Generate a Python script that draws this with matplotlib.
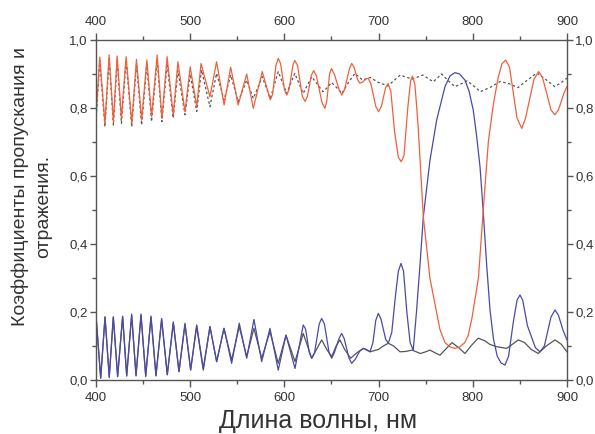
import matplotlib
matplotlib.use("Agg")
import matplotlib.pyplot as plt
from matplotlib.ticker import MultipleLocator, FuncFormatter

plt.rcParams['font.family'] = ['Liberation Sans', 'DejaVu Sans']

# transmission, first structure (red)
wl_t1 = [400, 404, 409.5, 414, 418.5, 422.5, 427, 432, 438, 443,
         448.5, 454, 459, 465, 470, 475.5, 482, 487, 494.5, 500,
         507, 511.5, 521, 528, 536, 543, 551, 560, 567, 576.5,
         585, 587.5, 591, 593.5, 596, 600, 602.5, 605, 609, 611,
         614, 619, 622, 624.5, 628.5, 631, 634, 640, 643, 645,
         648, 650, 653, 658, 661, 664, 669, 671.5, 674, 677.5,
         680, 683, 686.5, 689, 692, 697, 700, 703, 707.5, 710,
         713, 717, 721, 724, 727, 731, 734, 736, 738.5, 740,
         742, 747.5, 754.5, 761.5, 765, 770.5, 776, 781, 786, 791.5,
         795, 799, 806, 811, 816.5, 822, 827, 831, 835, 839,
         847, 852, 856, 865, 870, 874, 883, 887, 891, 897,
         900]
t1 = [0.77, 0.95, 0.755, 0.956, 0.76, 0.953, 0.77, 0.951, 0.755, 0.943,
      0.765, 0.941, 0.775, 0.956, 0.77, 0.951, 0.779, 0.936, 0.789, 0.921,
      0.804, 0.931, 0.833, 0.936, 0.809, 0.92, 0.809, 0.90, 0.799, 0.907,
      0.824, 0.84, 0.925, 0.946, 0.93, 0.855, 0.838, 0.855, 0.925, 0.94,
      0.925, 0.835, 0.819, 0.835, 0.895, 0.91, 0.895, 0.815, 0.799, 0.82,
      0.9, 0.916, 0.9, 0.855, 0.838, 0.855, 0.915, 0.931, 0.92, 0.885,
      0.873, 0.876, 0.886, 0.887, 0.87, 0.805, 0.789, 0.805, 0.86, 0.872,
      0.85, 0.73, 0.655, 0.642, 0.66, 0.8, 0.88, 0.894, 0.87, 0.82,
      0.745, 0.48, 0.30, 0.20, 0.15, 0.11, 0.097, 0.093, 0.097, 0.11,
      0.13, 0.18, 0.30, 0.495, 0.70, 0.814, 0.89, 0.93, 0.941, 0.92,
      0.77, 0.74, 0.77, 0.885, 0.907, 0.89, 0.795, 0.78, 0.795, 0.845,
      0.863]

# transmission, second structure (dotted grey)
wl_t2 = [400, 404, 409.5, 414, 418.5, 422.5, 427, 432, 438, 443,
         448.5, 454, 459, 465, 470, 475.5, 482, 487, 494.5, 500,
         507, 512, 521, 528, 536, 543, 551, 560, 567, 576.5,
         585, 593.5, 602.5, 611, 620, 629, 635, 641, 645.5, 650,
         655.5, 661, 668, 675, 683, 691, 700, 710, 716, 723,
         735.5, 747, 758, 767, 774, 781, 787, 794, 801, 808,
         818, 829, 838, 848, 857, 868, 877, 887, 894, 900]
t2 = [0.76, 0.94, 0.745, 0.945, 0.75, 0.94, 0.755, 0.94, 0.745, 0.93,
      0.75, 0.93, 0.76, 0.94, 0.76, 0.93, 0.77, 0.91, 0.78, 0.90,
      0.79, 0.912, 0.804, 0.902, 0.824, 0.897, 0.819, 0.882, 0.828, 0.892,
      0.828, 0.907, 0.843, 0.902, 0.843, 0.892, 0.87, 0.848, 0.86, 0.875,
      0.86, 0.843, 0.875, 0.902, 0.882, 0.89, 0.875, 0.865, 0.88, 0.897,
      0.885, 0.897, 0.877, 0.90, 0.88, 0.863, 0.87, 0.88, 0.865, 0.848,
      0.86, 0.878, 0.872, 0.86, 0.88, 0.903, 0.885, 0.863, 0.875, 0.888]

# reflection, first structure (blue)
wl_r1 = [400, 405, 409.6, 414.1, 418.4, 423, 428.3, 432.6, 437.9, 442.5,
         447.8, 452.8, 458.4, 463.7, 469.7, 475.7, 482.1, 488.1, 494.5, 500.5,
         506.9, 513.9, 521, 528.1, 535.9, 544, 552.1, 560, 567.7, 575.9,
         584.7, 593.5, 601.7, 611.3, 620, 622.5, 626.5, 629, 632, 637,
         639.6, 642.5, 647.5, 650.2, 653, 658, 660.8, 663.5, 668.5, 671.4,
         675, 680, 683.8, 687, 690.9, 694, 697, 699.7, 702.5, 707.5,
         710.3, 714, 718, 721, 723.8, 726.5, 730, 733.5, 736.8, 740.4,
         744, 747.5, 754.6, 761.7, 770.5, 776, 781.1, 786, 791.7, 796,
         800.5, 804, 807.7, 811.1, 814.7, 818.3, 822, 826, 830, 834.2,
         838, 843, 847, 850.1, 853, 858, 866.5, 871.3, 876, 883,
         887.3, 891, 896, 900]
r1 = [0.191, 0.005, 0.186, 0.008, 0.186, 0.01, 0.188, 0.012, 0.194, 0.012,
      0.194, 0.01, 0.188, 0.012, 0.181, 0.015, 0.171, 0.024, 0.167, 0.029,
      0.162, 0.034, 0.157, 0.054, 0.152, 0.049, 0.167, 0.064, 0.178, 0.054,
      0.152, 0.029, 0.132, 0.034, 0.162, 0.15, 0.08, 0.064, 0.08, 0.165,
      0.181, 0.165, 0.08, 0.064, 0.08, 0.122, 0.137, 0.122, 0.065, 0.049,
      0.06, 0.085, 0.093, 0.09, 0.083, 0.11, 0.175, 0.196, 0.18, 0.12,
      0.108, 0.14, 0.25, 0.32, 0.343, 0.32, 0.2, 0.11, 0.088, 0.206,
      0.34, 0.48, 0.647, 0.765, 0.863, 0.895, 0.904, 0.9, 0.882, 0.85,
      0.794, 0.72, 0.627, 0.495, 0.34, 0.206, 0.12, 0.07, 0.05, 0.044,
      0.07, 0.17, 0.235, 0.25, 0.235, 0.16, 0.095, 0.083, 0.1, 0.185,
      0.206, 0.19, 0.145, 0.118]

# reflection, second structure (grey)
wl_r2 = [400, 405, 409.6, 414.1, 418.4, 423, 428.3, 432.6, 437.9, 442.5,
         447.8, 452.8, 458.4, 463.7, 469.7, 475.7, 482.1, 488.1, 494.5, 500.5,
         506.9, 513.9, 521, 528.1, 535.9, 544, 552.1, 560, 567.7, 575.9,
         584.7, 593.5, 601.7, 611.3, 620, 629, 639.6, 645, 650.2, 655,
         659, 664, 670.3, 677, 683.8, 690.9, 700, 705, 710.3, 716,
         722.7, 729, 735.5, 740, 744.3, 749, 754.6, 760, 765.2, 771,
         778, 785, 791.7, 798, 805.8, 813, 818, 825.4, 836, 842,
         848.3, 855, 862, 869.5, 878, 887.3, 894, 900]
r2 = [0.19, 0.006, 0.185, 0.008, 0.185, 0.01, 0.186, 0.012, 0.19, 0.013,
      0.19, 0.012, 0.185, 0.013, 0.178, 0.016, 0.168, 0.025, 0.163, 0.03,
      0.158, 0.029, 0.157, 0.054, 0.152, 0.059, 0.157, 0.069, 0.152, 0.064,
      0.142, 0.049, 0.132, 0.054, 0.137, 0.064, 0.118, 0.09, 0.069, 0.1,
      0.118, 0.09, 0.064, 0.08, 0.093, 0.083, 0.09, 0.1, 0.108, 0.1,
      0.083, 0.084, 0.088, 0.083, 0.078, 0.082, 0.088, 0.08, 0.073, 0.09,
      0.11, 0.095, 0.078, 0.1, 0.123, 0.115, 0.105, 0.098, 0.093, 0.105,
      0.118, 0.11, 0.09, 0.078, 0.1, 0.118, 0.105, 0.083]

fig = plt.figure(figsize=(5.95, 4.34), dpi=100)
ax = fig.add_axes([0.1613, 0.1244, 0.7916, 0.7834])

ax.plot(wl_t2, t2, color='#555555', lw=0.9, ls=(0, (2, 2)))
ax.plot(wl_r2, r2, color='#555555', lw=0.9)
ax.plot(wl_r1, r1, color='#4a4aa8', lw=0.9)
ax.plot(wl_t1, t1, color='#f0603c', lw=0.9)

ax.set_xlim(400, 900)
ax.set_ylim(0, 1.0)
ax.xaxis.set_major_locator(MultipleLocator(100))
ax.xaxis.set_minor_locator(MultipleLocator(50))
ax.yaxis.set_major_locator(MultipleLocator(0.2))
ax.yaxis.set_minor_locator(MultipleLocator(0.1))
ax.yaxis.set_major_formatter(FuncFormatter(lambda v, p: f'{v:.1f}'.replace('.', ',')))

gray = '#555555'
for s in ax.spines.values():
    s.set_color(gray)
    s.set_linewidth(1.0)
ax.tick_params(which='both', direction='out', top=True, right=True,
               labeltop=True, labelright=True, colors=gray, labelcolor='#333333',
               labelsize=9.5)
ax.tick_params(which='major', length=5, width=1)
ax.tick_params(which='minor', length=3, width=1)
ax.tick_params(axis='y', which='both', right=True, pad=2)
ax.tick_params(axis='y', which='major', length=4)

fig.text(318 / 595, 1 - 421 / 434, 'Длина волны, нм', ha='center', va='center',
         fontsize=18, color='#333333')
fig.text(20 / 595, 1 - 186 / 434, 'Коэффициенты пропускания и', rotation=90,
         ha='center', va='center', fontsize=14, color='#333333')
fig.text(44 / 595, 1 - 206 / 434, 'отражения.', rotation=90,
         ha='center', va='center', fontsize=14, color='#333333')

fig.savefig('out.png', dpi=100)
